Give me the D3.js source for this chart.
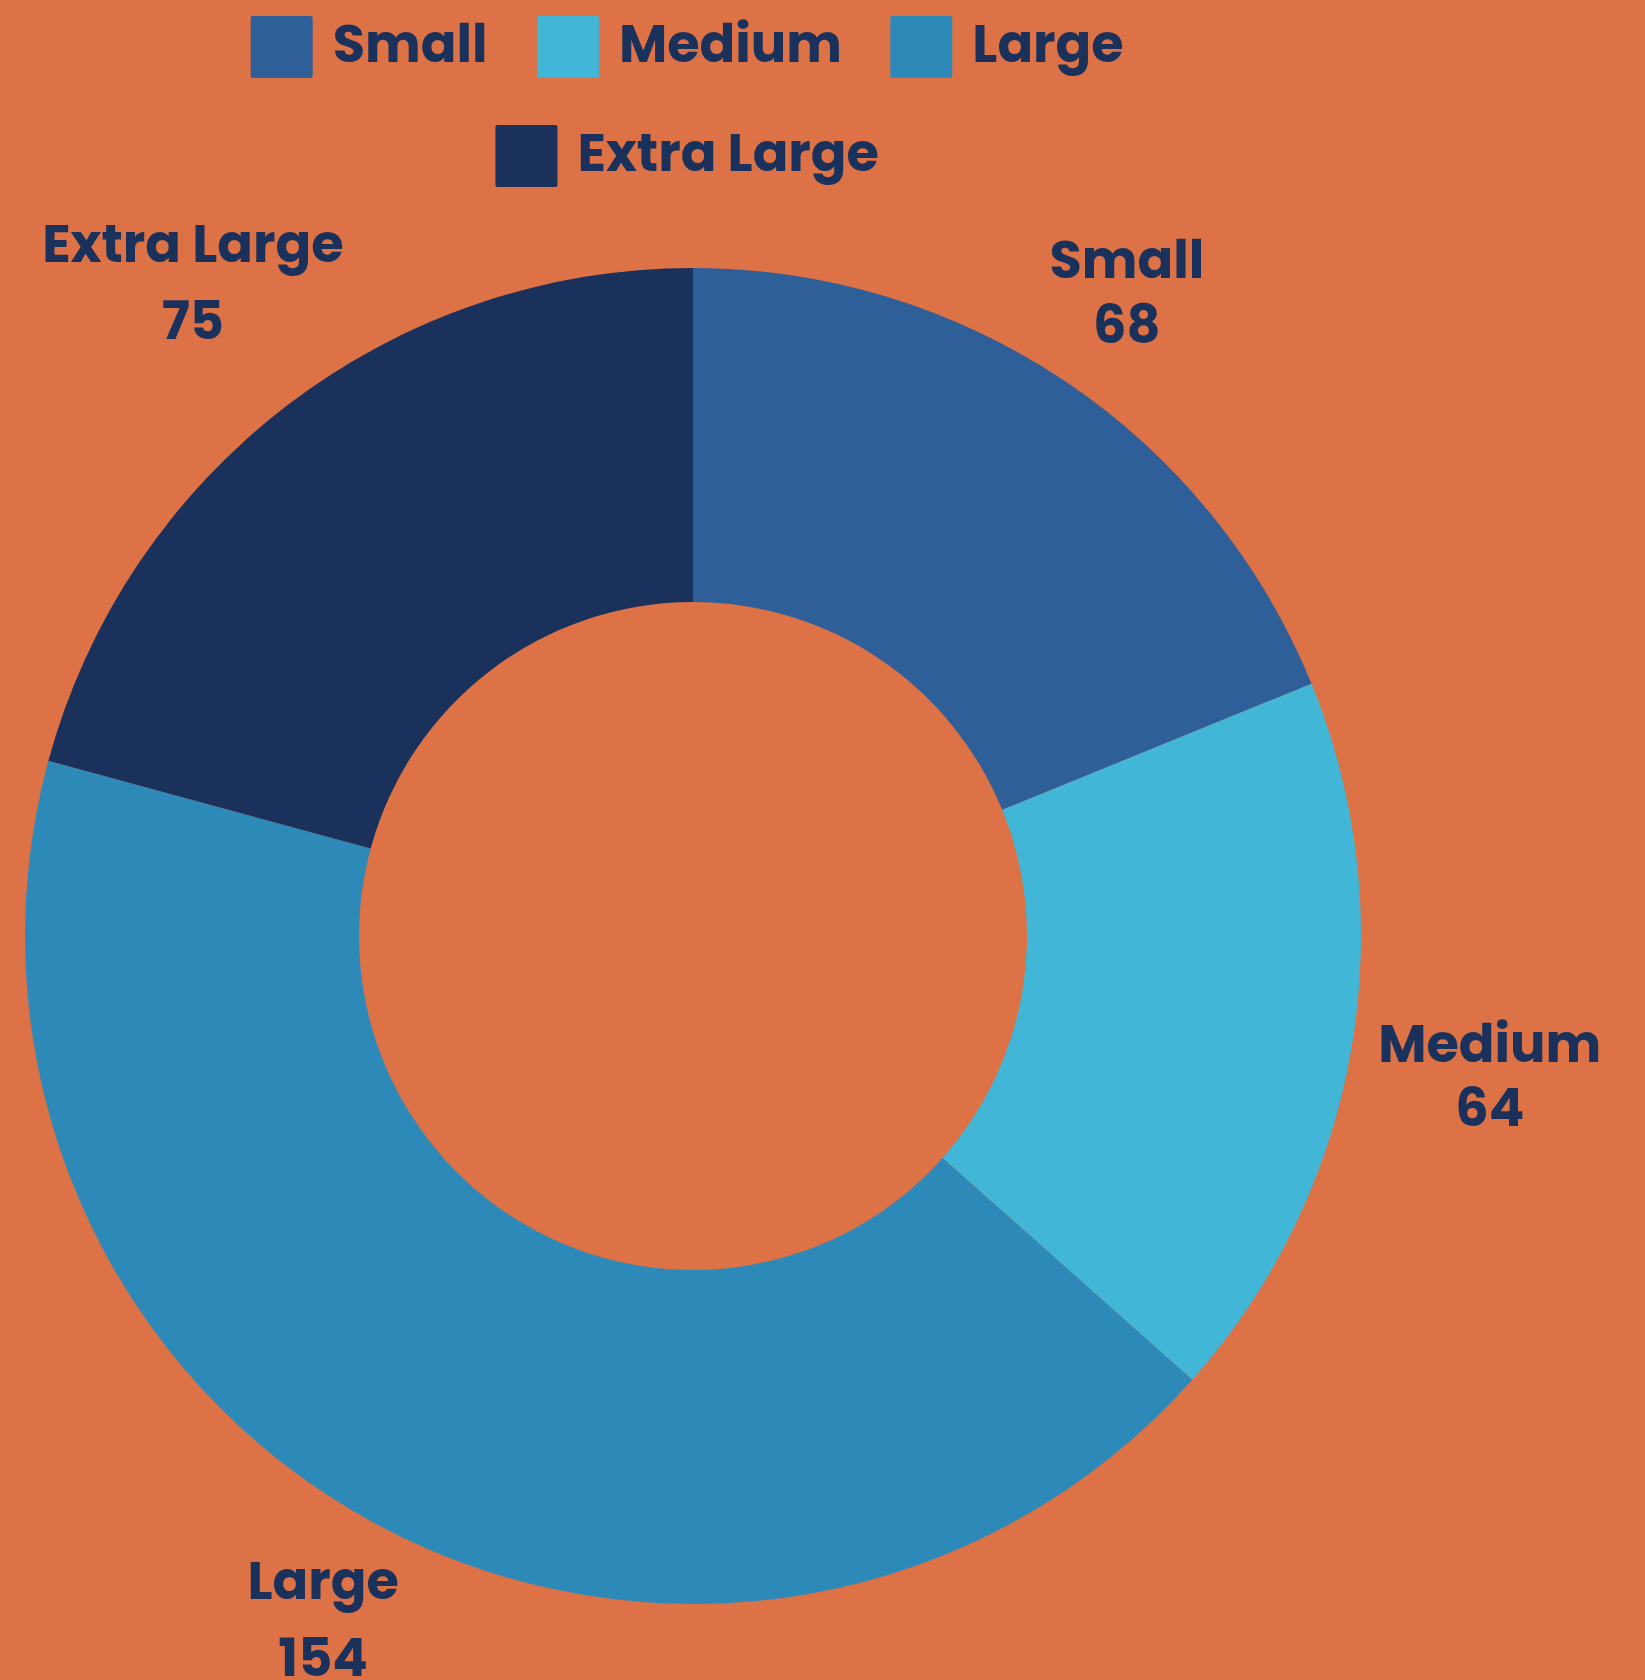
<!DOCTYPE html>
<html>
<head>
<meta charset="utf-8">
<script src="https://cdn.jsdelivr.net/npm/d3@7"></script>
<style>
  html, body { margin: 0; padding: 0; background: #dc7245; }
  svg { display: block; }
</style>
</head>
<body>
<div id="chart"></div>
<script>
// chart values
const sizes = ["Small", "Medium", "Large", "Extra Large"];
const counts = [68, 64, 154, 75];
const sliceColors = ["#2f5f98", "#42b6d6", "#2d8ab8", "#1a315b"];

const width = 1645;
const height = 1680;
const cx = 693, cy = 936;
const outerR = 668, innerR = 334;
const bg = "#dc7245";
const textColor = "#1a315b";
const fontFamily = "Poppins, Inter, 'Open Sans', sans-serif";
const fontSize = 52.6;
const fontWeight = 700;

const svg = d3.select("#chart")
  .append("svg")
  .attr("viewBox", [0, 0, width, height])
  .attr("width", width)
  .attr("height", height);

svg.append("rect").attr("width", width).attr("height", height).attr("fill", bg);

const data = sizes.map((s, i) => ({ name: s, value: counts[i], color: sliceColors[i] }));

const pie = d3.pie().value(d => d.value).sort(null);
const arc = d3.arc().innerRadius(innerR).outerRadius(outerR);
const arcs = pie(data);

const donut = svg.append("g").attr("transform", `translate(${cx},${cy})`);
donut.selectAll("path")
  .data(arcs)
  .join("path")
  .attr("d", arc)
  .attr("fill", d => d.data.color);

// measure glyph extents so labels can be pushed just clear of the ring
const ctx = document.createElement("canvas").getContext("2d");
ctx.font = `${fontWeight} ${fontSize}px ${fontFamily}`;
const measure = t => {
  const m = ctx.measureText(t);
  return {
    w: m.actualBoundingBoxLeft + m.actualBoundingBoxRight,
    asc: m.actualBoundingBoxAscent,
    desc: m.actualBoundingBoxDescent
  };
};

const labelClear = 25;  // gap between ring and nearest corner of label
const lineGap = 24;

const labels = svg.append("g")
  .attr("transform", `translate(${cx},${cy})`)
  .attr("font-family", fontFamily)
  .attr("font-weight", fontWeight)
  .attr("font-size", fontSize)
  .attr("fill", textColor)
  .attr("text-anchor", "middle");

arcs.forEach(a => {
  const mid = (a.startAngle + a.endAngle) / 2;
  const ux = Math.sin(mid), uy = -Math.cos(mid);
  const m1 = measure(a.data.name);
  const m2 = measure(String(a.data.value));
  const hw = Math.max(m1.w, m2.w) / 2;
  const hh = (m1.asc + m1.desc + lineGap + m2.asc) / 2;

  const boxDist = t => {
    const dx = Math.abs(t * ux) - hw, dy = Math.abs(t * uy) - hh;
    return Math.hypot(Math.max(0, dx), Math.max(0, dy));
  };
  let lo = 0, hi = outerR * 3;
  for (let i = 0; i < 60; i++) {
    const m = (lo + hi) / 2;
    if (boxDist(m) < outerR + labelClear) lo = m; else hi = m;
  }
  const x = lo * ux, y = lo * uy;
  const base1 = y - hh + m1.asc;
  const base2 = base1 + m1.desc + lineGap + m2.asc;

  labels.append("text").attr("x", x).attr("y", base1).text(a.data.name);
  labels.append("text").attr("x", x).attr("y", base2).text(a.data.value);
});

// legend
const boxSize = 62, boxTextGap = 20, itemGap = 54, rowStep = 109, legendTop = 16;
const legendMaxWidth = 1100;

const items = data.map(d => ({ ...d, w: boxSize + boxTextGap + measure(d.name).w }));
const rows = [];
items.forEach(it => {
  const row = rows[rows.length - 1];
  if (row && row.width + itemGap + it.w <= legendMaxWidth) {
    row.items.push(it);
    row.width += itemGap + it.w;
  } else {
    rows.push({ items: [it], width: it.w });
  }
});

const legend = svg.append("g")
  .attr("font-family", fontFamily)
  .attr("font-weight", fontWeight)
  .attr("font-size", fontSize)
  .attr("fill", textColor);

rows.forEach((row, r) => {
  let x = cx - 8 - row.width / 2;
  const top = legendTop + r * rowStep;
  row.items.forEach(it => {
    legend.append("rect")
      .attr("x", x).attr("y", top)
      .attr("width", boxSize).attr("height", boxSize)
      .attr("rx", 2)
      .attr("fill", it.color);
    legend.append("text")
      .attr("x", x + boxSize + boxTextGap)
      .attr("y", top + boxSize / 2 + 14.5)
      .text(it.name);
    x += it.w + itemGap;
  });
});
</script>
</body>
</html>
